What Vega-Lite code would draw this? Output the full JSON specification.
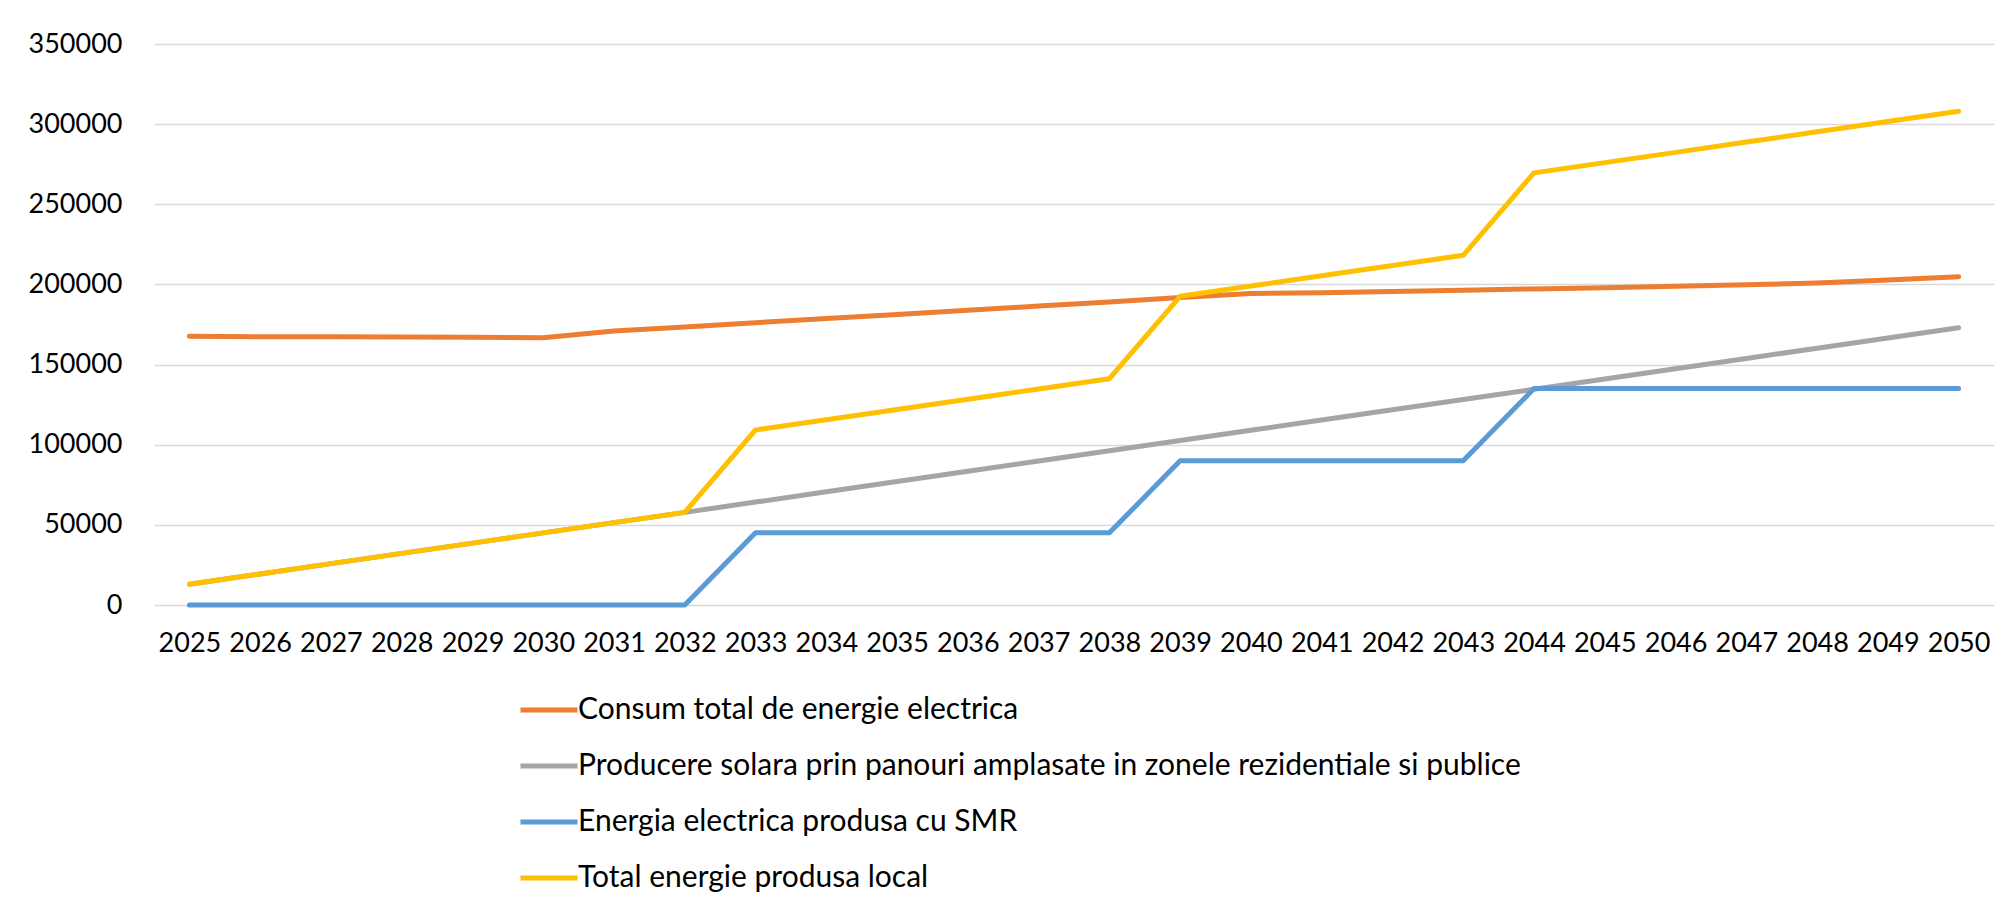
{
  "$schema": "https://vega.github.io/schema/vega-lite/v6.json",
  "width": 1840,
  "height": 561,
  "autosize": {"type": "none"},
  "padding": {"left": 154, "top": 44, "right": 19, "bottom": 304},
  "background": "white",
  "config": {
    "font": "Lato",
    "view": {"stroke": null},
    "axis": {"labelFont": "Lato", "labelColor": "#000000", "labelFontSize": 27, "ticks": false, "title": null}
  },
  "data": {
    "values": [
      {"year": "2025", "consum": 167600, "solar": 13000, "smr": 0, "total": 13000},
      {"year": "2026", "consum": 167400, "solar": 19400, "smr": 0, "total": 19400},
      {"year": "2027", "consum": 167300, "solar": 25800, "smr": 0, "total": 25800},
      {"year": "2028", "consum": 167200, "solar": 32200, "smr": 0, "total": 32200},
      {"year": "2029", "consum": 167000, "solar": 38600, "smr": 0, "total": 38600},
      {"year": "2030", "consum": 166800, "solar": 45000, "smr": 0, "total": 45000},
      {"year": "2031", "consum": 171000, "solar": 51400, "smr": 0, "total": 51400},
      {"year": "2032", "consum": 173500, "solar": 57800, "smr": 0, "total": 57800},
      {"year": "2033", "consum": 176100, "solar": 64200, "smr": 45000, "total": 109200},
      {"year": "2034", "consum": 178700, "solar": 70600, "smr": 45000, "total": 115600},
      {"year": "2035", "consum": 181300, "solar": 77000, "smr": 45000, "total": 122000},
      {"year": "2036", "consum": 183900, "solar": 83400, "smr": 45000, "total": 128400},
      {"year": "2037", "consum": 186500, "solar": 89800, "smr": 45000, "total": 134800},
      {"year": "2038", "consum": 189100, "solar": 96200, "smr": 45000, "total": 141200},
      {"year": "2039", "consum": 191800, "solar": 102600, "smr": 90000, "total": 192600},
      {"year": "2040", "consum": 194300, "solar": 109000, "smr": 90000, "total": 199000},
      {"year": "2041", "consum": 194800, "solar": 115400, "smr": 90000, "total": 205400},
      {"year": "2042", "consum": 195600, "solar": 121800, "smr": 90000, "total": 211800},
      {"year": "2043", "consum": 196400, "solar": 128200, "smr": 90000, "total": 218200},
      {"year": "2044", "consum": 197200, "solar": 134600, "smr": 135000, "total": 269600},
      {"year": "2045", "consum": 198000, "solar": 141000, "smr": 135000, "total": 276000},
      {"year": "2046", "consum": 198900, "solar": 147400, "smr": 135000, "total": 282400},
      {"year": "2047", "consum": 199800, "solar": 153800, "smr": 135000, "total": 288800},
      {"year": "2048", "consum": 200900, "solar": 160200, "smr": 135000, "total": 295200},
      {"year": "2049", "consum": 202700, "solar": 166600, "smr": 135000, "total": 301600},
      {"year": "2050", "consum": 204800, "solar": 173000, "smr": 135000, "total": 308000}
    ]
  },
  "transform": [
    {"fold": ["consum", "solar", "smr", "total"], "as": ["series", "value"]}
  ],
  "mark": {"type": "line", "strokeWidth": 5, "strokeCap": "round", "strokeJoin": "round"},
  "encoding": {
    "x": {
      "field": "year",
      "type": "ordinal",
      "scale": {"type": "point", "padding": 0.5},
      "axis": {"labelAngle": 0, "labelPadding": 25, "domain": false, "grid": false}
    },
    "y": {
      "field": "value",
      "type": "quantitative",
      "scale": {"domain": [0, 350000], "nice": false},
      "axis": {
        "values": [0, 50000, 100000, 150000, 200000, 250000, 300000, 350000],
        "format": "d",
        "domain": false,
        "grid": true,
        "gridColor": "#D9D9D9",
        "gridWidth": 1.5,
        "labelPadding": 32
      }
    },
    "color": {
      "field": "series",
      "type": "nominal",
      "scale": {
        "domain": ["consum", "solar", "smr", "total"],
        "range": ["#ED7D31", "#A5A5A5", "#5B9BD5", "#FFC000"]
      },
      "legend": {
        "title": null,
        "orient": "none",
        "legendX": 364,
        "legendY": 635,
        "direction": "vertical",
        "padding": 0,
        "symbolType": "stroke",
        "symbolSize": 3249,
        "symbolStrokeWidth": 5,
        "labelOffset": -2,
        "labelFont": "Lato",
        "labelFontSize": 30,
        "labelColor": "#000000",
        "labelLimit": 2000,
        "rowPadding": 10,
        "labelExpr": "{'consum': 'Consum total de energie electrica', 'solar': 'Producere solara prin panouri amplasate in zonele rezidentiale si publice', 'smr': 'Energia electrica produsa cu SMR', 'total': 'Total energie produsa local'}[datum.label]"
      }
    }
  }
}
